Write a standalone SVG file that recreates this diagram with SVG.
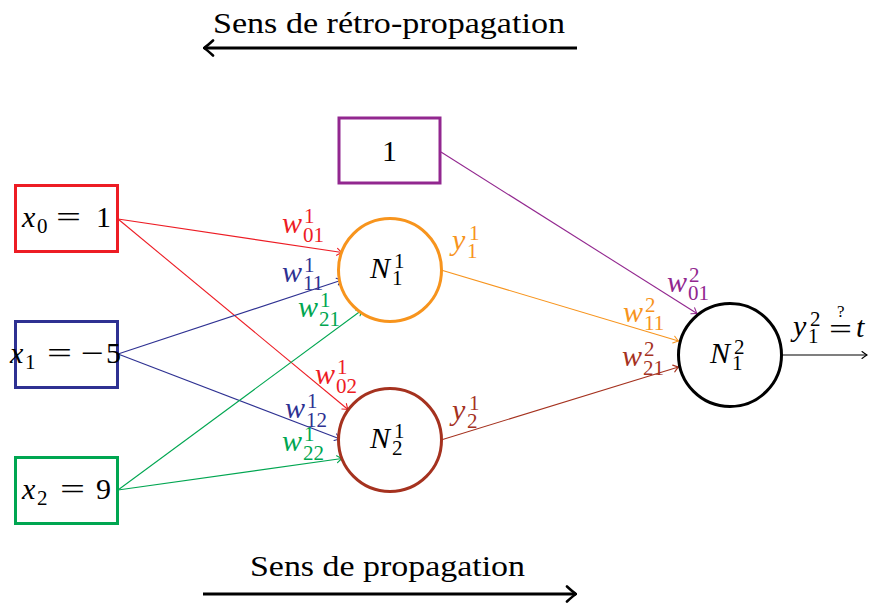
<svg xmlns="http://www.w3.org/2000/svg" width="875" height="603" viewBox="0 0 875 603" font-family="'Liberation Serif', 'Times New Roman', Tinos, serif">
<style>
text{font-family:'Liberation Serif','Times New Roman',Tinos,serif;font-size:30px;fill:#000}
.m{font-style:italic}
.s{font-size:21px;font-style:normal}
.q{font-size:17px}
.box{fill:#fff;stroke-width:3}
.circ{fill:#fff;stroke-width:3}
.e{fill:none;stroke-width:1.1}
.red{stroke:#ED1C24}.blue{stroke:#2E3192}.green{stroke:#00A651}.purple{stroke:#92278F}.orange{stroke:#F7941D}.brown{stroke:#A5321F}.black{stroke:#000}
.tred{fill:#ED1C24}.tblue{fill:#2E3192}.tgreen{fill:#00A651}.tpurple{fill:#92278F}.torange{fill:#F7941D}.tbrown{fill:#A5321F}
</style>
<defs>
<marker id="ar" viewBox="-6 -5 7 10" refX="0" refY="0" markerWidth="7" markerHeight="10" markerUnits="userSpaceOnUse" orient="auto"><path d="M-5,-3.5 Q-1.5,-0.8 0,0 Q-1.5,0.8 -5,3.5" fill="none" stroke="#ED1C24" stroke-width="1.1" stroke-linecap="round"/></marker>
<marker id="ab" viewBox="-6 -5 7 10" refX="0" refY="0" markerWidth="7" markerHeight="10" markerUnits="userSpaceOnUse" orient="auto"><path d="M-5,-3.5 Q-1.5,-0.8 0,0 Q-1.5,0.8 -5,3.5" fill="none" stroke="#2E3192" stroke-width="1.1" stroke-linecap="round"/></marker>
<marker id="ag" viewBox="-6 -5 7 10" refX="0" refY="0" markerWidth="7" markerHeight="10" markerUnits="userSpaceOnUse" orient="auto"><path d="M-5,-3.5 Q-1.5,-0.8 0,0 Q-1.5,0.8 -5,3.5" fill="none" stroke="#00A651" stroke-width="1.1" stroke-linecap="round"/></marker>
<marker id="ap" viewBox="-6 -5 7 10" refX="0" refY="0" markerWidth="7" markerHeight="10" markerUnits="userSpaceOnUse" orient="auto"><path d="M-5,-3.5 Q-1.5,-0.8 0,0 Q-1.5,0.8 -5,3.5" fill="none" stroke="#92278F" stroke-width="1.1" stroke-linecap="round"/></marker>
<marker id="ao" viewBox="-6 -5 7 10" refX="0" refY="0" markerWidth="7" markerHeight="10" markerUnits="userSpaceOnUse" orient="auto"><path d="M-5,-3.5 Q-1.5,-0.8 0,0 Q-1.5,0.8 -5,3.5" fill="none" stroke="#F7941D" stroke-width="1.1" stroke-linecap="round"/></marker>
<marker id="abr" viewBox="-6 -5 7 10" refX="0" refY="0" markerWidth="7" markerHeight="10" markerUnits="userSpaceOnUse" orient="auto"><path d="M-5,-3.5 Q-1.5,-0.8 0,0 Q-1.5,0.8 -5,3.5" fill="none" stroke="#A5321F" stroke-width="1.1" stroke-linecap="round"/></marker>
<marker id="ak" viewBox="-6 -5 7 10" refX="0" refY="0" markerWidth="7" markerHeight="10" markerUnits="userSpaceOnUse" orient="auto"><path d="M-5,-3.5 Q-1.5,-0.8 0,0 Q-1.5,0.8 -5,3.5" fill="none" stroke="#000" stroke-width="1.1" stroke-linecap="round"/></marker>
<marker id="abig" viewBox="-12 -9 13 18" refX="0" refY="0" markerWidth="13" markerHeight="18" markerUnits="userSpaceOnUse" orient="auto"><path d="M-9,-7.5 Q-2.5,-1.5 0,0 Q-2.5,1.5 -9,7.5" fill="none" stroke="#000" stroke-width="2.6" stroke-linecap="round"/></marker>
</defs>

<g id="connectors">
<line class="e red" x1="118" y1="219" x2="342" y2="252.5" marker-end="url(#ar)"/>
<line class="e red" x1="118" y1="219" x2="348" y2="409.5" marker-end="url(#ar)"/>
<line class="e blue" x1="118" y1="354" x2="342" y2="280" marker-end="url(#ab)"/>
<line class="e blue" x1="118" y1="354" x2="340" y2="439" marker-end="url(#ab)"/>
<line class="e green" x1="118" y1="490" x2="362" y2="310" marker-end="url(#ag)"/>
<line class="e green" x1="118" y1="490" x2="342" y2="458.5" marker-end="url(#ag)"/>
<line class="e purple" x1="441" y1="152" x2="697" y2="313.5" marker-end="url(#ap)"/>
<line class="e orange" x1="441" y1="270" x2="678.5" y2="341" marker-end="url(#ao)"/>
<line class="e brown" x1="441" y1="440" x2="678.5" y2="367" marker-end="url(#abr)"/>
<line class="e black" x1="782" y1="355" x2="867" y2="355" marker-end="url(#ak)"/>
</g>

<g id="labels">
<text class="tred"><tspan class="m" x="282" y="233">w</tspan><tspan class="s" x="304" y="223">1</tspan><tspan class="s" x="303" y="242">01</tspan></text>
<text class="tblue"><tspan class="m" x="282" y="282">w</tspan><tspan class="s" x="304" y="272">1</tspan><tspan class="s" x="303" y="290">11</tspan></text>
<text class="tgreen"><tspan class="m" x="298" y="317">w</tspan><tspan class="s" x="320" y="307">1</tspan><tspan class="s" x="319" y="326">21</tspan></text>
<text class="tred"><tspan class="m" x="315" y="384">w</tspan><tspan class="s" x="337" y="374">1</tspan><tspan class="s" x="336" y="393">02</tspan></text>
<text class="tblue"><tspan class="m" x="285" y="418">w</tspan><tspan class="s" x="307" y="408">1</tspan><tspan class="s" x="306" y="427">12</tspan></text>
<text class="tgreen"><tspan class="m" x="282" y="451">w</tspan><tspan class="s" x="304" y="441">1</tspan><tspan class="s" x="303" y="460">22</tspan></text>
<text class="torange"><tspan class="m" x="452" y="250">y</tspan><tspan class="s" x="469" y="240">1</tspan><tspan class="s" x="467" y="258">1</tspan></text>
<text class="tbrown"><tspan class="m" x="452" y="420">y</tspan><tspan class="s" x="469" y="410">1</tspan><tspan class="s" x="467" y="428">2</tspan></text>
<text class="tpurple"><tspan class="m" x="667" y="292">w</tspan><tspan class="s" x="689" y="282">2</tspan><tspan class="s" x="688" y="300">01</tspan></text>
<text class="torange"><tspan class="m" x="623" y="322">w</tspan><tspan class="s" x="645" y="312">2</tspan><tspan class="s" x="644" y="330">11</tspan></text>
<text class="tbrown"><tspan class="m" x="622" y="366">w</tspan><tspan class="s" x="644" y="356">2</tspan><tspan class="s" x="643" y="375">21</tspan></text>
<text><tspan class="m" x="793" y="336">y</tspan><tspan class="s" x="810" y="326">2</tspan><tspan class="s" x="808" y="343">1</tspan></text>
<text x="829" y="339" textLength="23" lengthAdjust="spacingAndGlyphs">=</text>
<text class="q" x="837" y="317">?</text>
<text class="m" x="856" y="337">t</text>
</g>

<g id="box-x0">
<rect class="box red" x="15.5" y="185.5" width="102" height="66"/>
<text><tspan class="m" x="22" y="227">x</tspan><tspan class="s" x="37" y="233">0</tspan></text>
<text x="56" y="227" textLength="25" lengthAdjust="spacingAndGlyphs">=</text>
<text x="96" y="227">1</text>
</g>
<g id="box-x1">
<rect class="box blue" x="15.5" y="321.5" width="102" height="66"/>
<text><tspan class="m" x="10" y="363">x</tspan><tspan class="s" x="25" y="369">1</tspan></text>
<text x="47" y="363" textLength="25" lengthAdjust="spacingAndGlyphs">=</text>
<text x="81" y="363" textLength="23" lengthAdjust="spacingAndGlyphs">−</text>
<text x="106" y="363">5</text>
</g>
<g id="box-x2">
<rect class="box green" x="15.5" y="457.5" width="102" height="66"/>
<text><tspan class="m" x="22" y="499">x</tspan><tspan class="s" x="37" y="505">2</tspan></text>
<text x="60" y="499" textLength="25" lengthAdjust="spacingAndGlyphs">=</text>
<text x="96" y="499">9</text>
</g>
<g id="box-bias">
<rect class="box purple" x="339" y="118" width="101" height="65"/>
<text x="382" y="161">1</text>
</g>
<g id="node-N11">
<circle class="circ orange" cx="390" cy="270" r="51.5"/>
<text><tspan class="m" x="370" y="278">N</tspan><tspan class="s" x="394" y="268">1</tspan><tspan class="s" x="392" y="285">1</tspan></text>
</g>
<g id="node-N12">
<circle class="circ brown" cx="390" cy="440" r="51.5"/>
<text><tspan class="m" x="370" y="448">N</tspan><tspan class="s" x="394" y="438">1</tspan><tspan class="s" x="392" y="455">2</tspan></text>
</g>
<g id="node-N21">
<circle class="circ black" cx="730" cy="355" r="51.5"/>
<text><tspan class="m" x="710" y="363">N</tspan><tspan class="s" x="734" y="354">2</tspan><tspan class="s" x="732" y="370">1</tspan></text>
</g>

<g id="direction">
<text x="213" y="33" textLength="352" lengthAdjust="spacingAndGlyphs">Sens de rétro-propagation</text>
<line x1="577" y1="48" x2="204" y2="48" stroke="#000" stroke-width="3" marker-end="url(#abig)"/>
<text x="250" y="576" textLength="275" lengthAdjust="spacingAndGlyphs">Sens de propagation</text>
<line x1="203" y1="594" x2="576" y2="594" stroke="#000" stroke-width="3" marker-end="url(#abig)"/>
</g>
</svg>
